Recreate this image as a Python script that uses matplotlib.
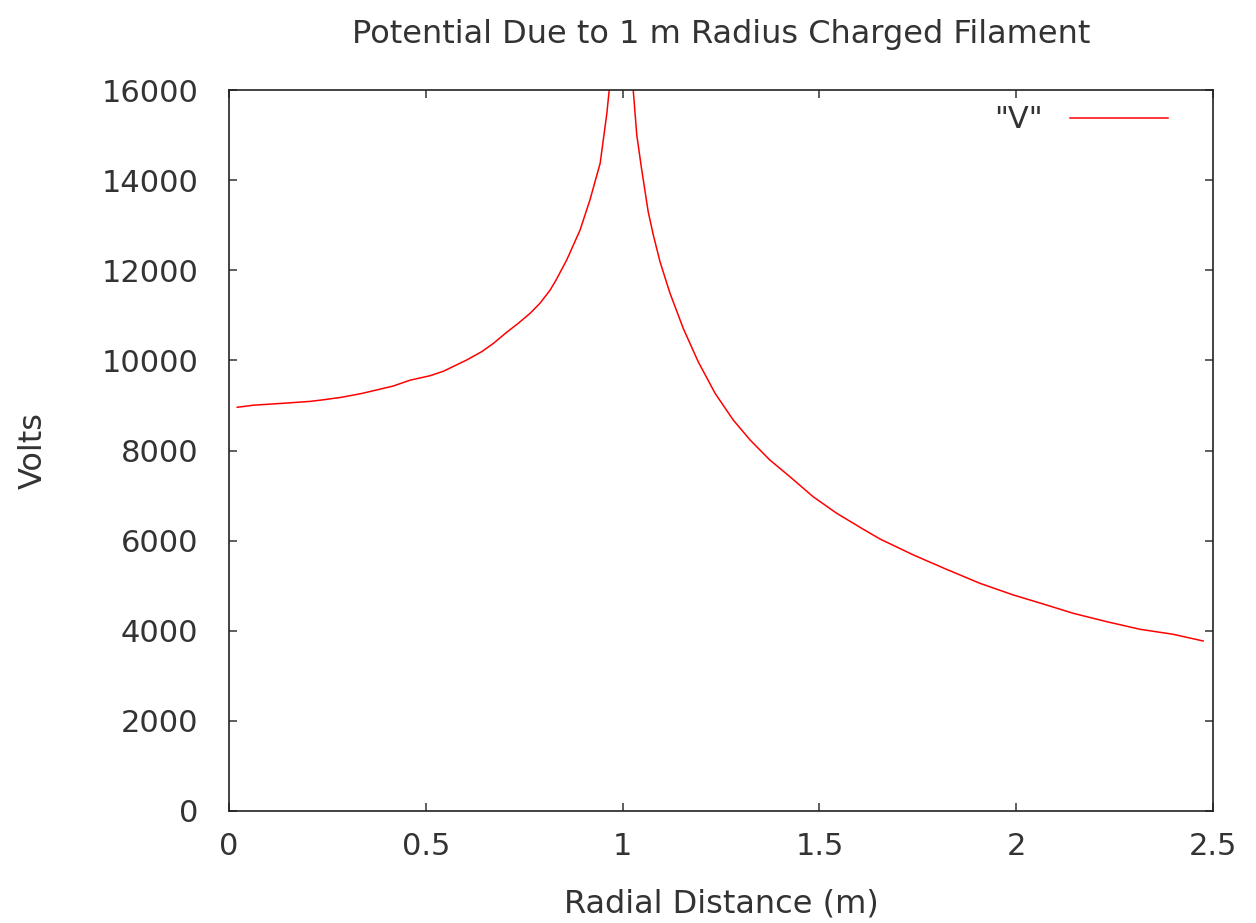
import matplotlib
matplotlib.use("Agg")
import matplotlib.pyplot as plt

# Potential samples inside the filament radius (r < 1 m)
r_inner = [0.021, 0.062, 0.138, 0.206, 0.235, 0.286, 0.337, 0.388, 0.417, 0.460,
           0.511, 0.545, 0.604, 0.642, 0.672, 0.705, 0.735, 0.765, 0.790, 0.816,
           0.831, 0.858, 0.892, 0.917, 0.943, 0.960, 0.966]
v_inner = [8959, 9005, 9048, 9090, 9120, 9181, 9265, 9370, 9430, 9560,
           9660, 9760, 10009, 10193, 10379, 10620, 10823, 11045, 11267, 11562,
           11784, 12228, 12894, 13560, 14374, 15484, 16000]

# Potential samples outside the filament radius (r > 1 m)
r_outer = [1.027, 1.036, 1.048, 1.065, 1.078, 1.095, 1.120, 1.154, 1.192, 1.235,
           1.281, 1.324, 1.374, 1.425, 1.484, 1.544, 1.612, 1.654, 1.739, 1.823,
           1.908, 1.993, 2.070, 2.145, 2.230, 2.315, 2.399, 2.475]
v_outer = [16000, 15003, 14263, 13300, 12783, 12191, 11500, 10712, 9971, 9269,
           8677, 8233, 7790, 7419, 6975, 6606, 6250, 6036, 5681, 5363,
           5052, 4793, 4590, 4387, 4201, 4032, 3921, 3773]

x_ticks = [0, 0.5, 1, 1.5, 2, 2.5]
x_tick_labels = ["0", "0.5", "1", "1.5", "2", "2.5"]
y_ticks = [0, 2000, 4000, 6000, 8000, 10000, 12000, 14000, 16000]
y_tick_labels = [str(v) for v in y_ticks]

plt.rcParams["font.family"] = ["DejaVu Sans"]
TEXT = "#333333"

fig = plt.figure(figsize=(12.56, 9.23), dpi=100)
ax = fig.add_axes([229 / 1256, 112 / 923, 984 / 1256, 721 / 923])

# the two branches are separated by a gap at the filament surface
r_all = r_inner + [float("nan")] + r_outer
v_all = v_inner + [float("nan")] + v_outer
ax.plot(r_all, v_all, color="#ff0000", linewidth=1.1, label='"V"')

ax.set_xlim(0, 2.5)
ax.set_ylim(0, 16000)
ax.set_xticks(x_ticks)
ax.set_xticklabels(x_tick_labels)
ax.set_yticks(y_ticks)
ax.set_yticklabels(y_tick_labels)

ax.tick_params(direction="in", length=6, width=1.1, top=True, right=True,
               labelsize=22, colors=TEXT)
ax.tick_params(axis="y", pad=22)
ax.tick_params(axis="x", pad=15)
for s in ax.spines.values():
    s.set_linewidth(1.2)
    s.set_color("#222222")

ax.set_title("Potential Due to 1 m Radius Charged Filament", fontsize=23,
             color=TEXT, pad=34)
ax.set_xlabel("Radial Distance (m)", fontsize=23, color=TEXT, labelpad=20)
ax.set_ylabel("Volts", fontsize=23, color=TEXT, labelpad=38)

ax.legend(loc="upper right", frameon=False, markerfirst=False, fontsize=22,
          handlelength=3.2, borderaxespad=0.1, handletextpad=0.9,
          bbox_to_anchor=(0.97, 1.0), labelcolor=TEXT)

fig.savefig("out.png", dpi=100)
